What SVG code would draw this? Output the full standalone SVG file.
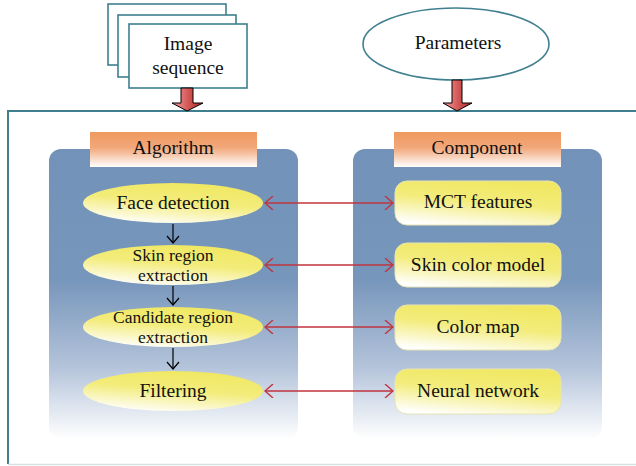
<svg xmlns="http://www.w3.org/2000/svg" width="636" height="466" viewBox="0 0 636 466" font-family="Liberation Serif, Times New Roman, serif">
<defs>
<linearGradient id="panel" x1="0" y1="0" x2="0" y2="1">
<stop offset="0" stop-color="#7292b9"/>
<stop offset="0.45" stop-color="#7796bb"/>
<stop offset="0.75" stop-color="#b3c3da"/>
<stop offset="1" stop-color="#ffffff"/>
</linearGradient>
<linearGradient id="hdr" x1="0" y1="0" x2="0" y2="1">
<stop offset="0" stop-color="#ef9a5e"/>
<stop offset="0.45" stop-color="#f2a77a"/>
<stop offset="1" stop-color="#ffffff"/>
</linearGradient>
<linearGradient id="yel" x1="0.25" y1="1" x2="0.6" y2="0">
<stop offset="0" stop-color="#ffffff"/>
<stop offset="0.55" stop-color="#f3ec7c"/>
<stop offset="1" stop-color="#f0e862"/>
</linearGradient>
<linearGradient id="redg" x1="0" y1="0" x2="1" y2="0">
<stop offset="0" stop-color="#f2a0a0"/>
<stop offset="0.5" stop-color="#d65a5a"/>
<stop offset="1" stop-color="#a82828"/>
</linearGradient>
<marker id="rh" markerWidth="10" markerHeight="14" refX="9" refY="7" orient="auto-start-reverse" markerUnits="userSpaceOnUse">
<path d="M1,0 L9,7 L1,14" fill="none" stroke="#c0343f" stroke-width="1.4"/>
</marker>
</defs>
<style>
text{font-size:19.5px;fill:#111;text-anchor:middle}
.two{font-size:17.5px}
.sheet{fill:#fff;stroke:#3f7f8f;stroke-width:1.6}
.panel{fill:url(#panel)}
.hdr{fill:url(#hdr)}
.ell{fill:url(#yel)}
.box{fill:url(#yel);stroke:#e8e4b0;stroke-width:1}
.red{stroke:#c0343f;stroke-width:1.4;fill:none;marker-start:url(#rh);marker-end:url(#rh)}
.blk{stroke:#000;stroke-width:1.2;fill:none}
.big{fill:url(#redg);stroke:#000;stroke-width:1}
</style>

<g id="frame">
<path d="M8,464 L8,111 L636,111" fill="none" stroke="#3f7f8f" stroke-width="2"/>
<line x1="8" y1="464.5" x2="636" y2="464.5" stroke="#d6e2e2" stroke-width="1.5"/>
</g>

<g id="image-sequence">
<rect class="sheet" x="108" y="4" width="118" height="61"/>
<rect class="sheet" x="118" y="15" width="118" height="62"/>
<rect class="sheet" x="129" y="24" width="118" height="64"/>
<text x="188" y="50">Image</text>
<text x="188" y="74">sequence</text>
</g>

<g id="parameters">
<ellipse cx="456" cy="44" rx="93" ry="36" fill="#fff" stroke="#3f7f8f" stroke-width="1.6"/>
<text x="458" y="49">Parameters</text>
</g>

<g id="algorithm-panel">
<rect class="panel" x="49" y="149" width="249" height="290" rx="12"/>
<rect class="hdr" x="90" y="132" width="167" height="35"/>
<text x="173" y="154">Algorithm</text>
</g>

<g id="component-panel">
<rect class="panel" x="353" y="149" width="249" height="290" rx="12"/>
<rect class="hdr" x="394" y="132" width="167" height="35"/>
<text x="477" y="154">Component</text>
</g>

<g id="face-detection">
<ellipse class="ell" cx="173" cy="203" rx="90" ry="20"/>
<text x="173" y="209">Face detection</text>
</g>
<g id="skin-region-extraction">
<ellipse class="ell" cx="173" cy="265" rx="90" ry="20"/>
<text class="two" x="173" y="261">Skin region</text>
<text class="two" x="173" y="281">extraction</text>
</g>
<g id="candidate-region-extraction">
<ellipse class="ell" cx="173" cy="327" rx="90" ry="20"/>
<text class="two" x="173" y="323">Candidate region</text>
<text class="two" x="173" y="343">extraction</text>
</g>
<g id="filtering">
<ellipse class="ell" cx="173" cy="391" rx="90" ry="20"/>
<text x="173" y="397">Filtering</text>
</g>

<g id="mct-features">
<rect class="box" x="395" y="181" width="166" height="44" rx="12"/>
<text x="478" y="208">MCT features</text>
</g>
<g id="skin-color-model">
<rect class="box" x="395" y="243" width="166" height="44" rx="12"/>
<text x="478" y="271">Skin color model</text>
</g>
<g id="color-map">
<rect class="box" x="395" y="305" width="166" height="45" rx="12"/>
<text x="478" y="333">Color map</text>
</g>
<g id="neural-network">
<rect class="box" x="395" y="369" width="166" height="45" rx="12"/>
<text x="478" y="397">Neural network</text>
</g>

<g id="connectors">
<path class="big" d="M181,88 L193,88 L193,103 L203,103 L187,111 L172,103 L181,103 Z"/>
<path class="big" d="M452,80 L462,80 L462,103 L472,103 L457,111 L443,103 L452,103 Z"/>
<line class="red" x1="265" y1="203" x2="393" y2="203"/>
<line class="red" x1="265" y1="265" x2="393" y2="265"/>
<line class="red" x1="265" y1="327" x2="393" y2="327"/>
<line class="red" x1="265" y1="391" x2="393" y2="391"/>
<g class="blk">
<line x1="173" y1="224" x2="173" y2="243"/><path d="M167,236 L173,243 L179,236"/>
<line x1="173" y1="286" x2="173" y2="305"/><path d="M167,298 L173,305 L179,298"/>
<line x1="173" y1="348" x2="173" y2="369"/><path d="M167,362 L173,369 L179,362"/>
</g>
</g>
</svg>
